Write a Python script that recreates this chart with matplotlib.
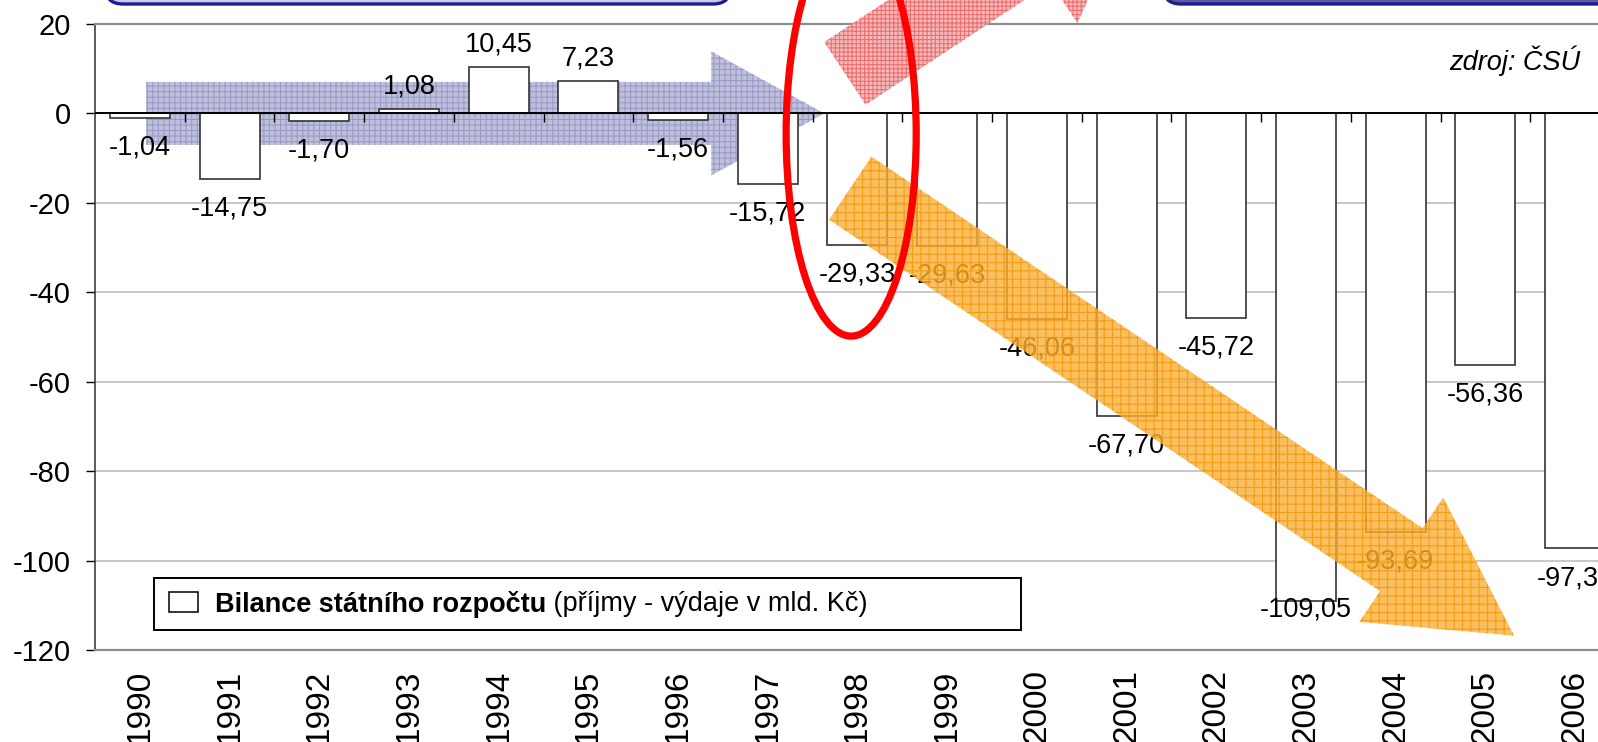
import numpy as np
import matplotlib
matplotlib.use("Agg")
import matplotlib.pyplot as plt
from matplotlib.patches import Polygon, Ellipse, FancyBboxPatch, Rectangle

years = [str(y) for y in range(1990, 2007)]
balance = [-1.04, -14.75, -1.70, 1.08, 10.45, 7.23, -1.56, -15.72, -29.33,
           -29.63, -46.06, -67.70, -45.72, -109.05, -93.69, -56.36, -97.30]
yticks = [20, 0, -20, -40, -60, -80, -100, -120]
legend_bold = "Bilance státního rozpočtu"
legend_rest = " (příjmy - výdaje v mld. Kč)"
source_text = "zdroj: ČSÚ"

W, H = 1598, 742
plt.rcParams['font.family'] = ['Liberation Sans', 'DejaVu Sans']
plt.rcParams['hatch.linewidth'] = 0.8

fig = plt.figure(figsize=(W / 100, H / 100), dpi=100)
fig.patch.set_facecolor('white')

# plot area: 95px left, y=20 at 24px, y=-120 at 650px, 89.7px per category
ax = fig.add_axes([95 / W, (H - 650) / H, 17 * 89.7 / W, 626 / H])
x = np.arange(len(years))
ax.set_xlim(-0.5, len(years) - 0.5)
ax.set_ylim(-120, 20)

for y in yticks[1:-1]:
    ax.axhline(y, color='#c4c4c4', lw=1.3, zorder=0)
ax.axhline(0, color='black', lw=1.4, zorder=4)
ax.vlines(x[:-1] + 0.5, -2.0, 0, color='black', lw=1.0, zorder=4)

ax.bar(x, balance, width=0.67, color='white', edgecolor='#333333', lw=1.2, zorder=3)

for xi, v in zip(x, balance):
    lab = f"{v:.2f}".replace('.', ',')
    if v > 0:
        ly = v + 5.0
    else:
        # labels stay inside the plot area, like in Excel
        ly = max(v - 6.6, -111.0)
    ax.text(xi, ly, lab, ha='center', va='center', fontsize=19.5,
            family=['Liberation Sans Narrow', 'Liberation Sans'], zorder=5)

ax.set_yticks(yticks)
ax.set_yticklabels([str(t) for t in yticks], fontsize=21)
ax.tick_params(axis='y', length=6.5, width=1, pad=11, direction='out')
ax.set_xticks(x)
ax.set_xticklabels(years, rotation=90, fontsize=24, va='top')
ax.tick_params(axis='x', length=0, pad=14)
for s in ['top', 'bottom']:
    ax.spines[s].set_color('#8c8c8c')
    ax.spines[s].set_linewidth(1.6)
ax.spines['right'].set_visible(False)
ax.spines['left'].set_color('#404040')
ax.spines['left'].set_linewidth(1.2)


def arrow_poly(tail, tip, body_half, head_half, head_len):
    p0 = ax.transData.transform(tail)
    p1 = ax.transData.transform(tip)
    u = (p1 - p0) / np.hypot(*(p1 - p0))
    n = np.array([-u[1], u[0]])
    base = p1 - u * head_len
    pts = [p0 + n * body_half, base + n * body_half, base + n * head_half, p1,
           base - n * head_half, base - n * body_half, p0 - n * body_half]
    return ax.transData.inverted().transform(np.array(pts))


# blue trend arrow (behind bars)
ax.add_patch(Polygon(arrow_poly((0.07, 0), (7.63, 0), 31.5, 62, 113),
                     facecolor='#b4b6d6', edgecolor='#9496c4', hatch='+++',
                     lw=0, alpha=0.85, zorder=2, clip_on=False))
# red arrow going up
ax.add_patch(Polygon(arrow_poly((7.86, 8.95), (11.19, 53.0), 37.5, 86, 136),
                     facecolor='#f6b4b4', edgecolor='#ec6868', hatch='++++',
                     lw=0, alpha=0.9, zorder=6, clip_on=False))
# orange arrow going down
ax.add_patch(Polygon(arrow_poly((7.92, -16.7), (15.32, -116.8), 38, 75, 136),
                     facecolor='#fbb038', edgecolor='#f29500', hatch='++',
                     lw=0, alpha=0.8, zorder=6, clip_on=False))
# red ellipse around 1998
ax.add_patch(Ellipse((7.93, -4.6), 1.45, 90.4, fill=False, edgecolor='#ff0000',
                     lw=5.2, zorder=7, clip_on=False))

# overlay in pixel coordinates for boxes, legend and source note
ov = fig.add_axes([0, 0, 1, 1])
ov.set_xlim(0, W)
ov.set_ylim(H, 0)
ov.set_axis_off()
ov.add_patch(FancyBboxPatch((105, -60), 626, 64, boxstyle='round,pad=0,rounding_size=18',
                            facecolor='#c9c9f2', edgecolor='#1c1c8c', lw=2.4))
ov.add_patch(FancyBboxPatch((1163, -60), 480, 64, boxstyle='round,pad=0,rounding_size=18',
                            facecolor='#5a5aa2', edgecolor='#1c1c8c', lw=2.4))

ov.add_patch(Rectangle((154, 578), 867, 52, facecolor='white', edgecolor='black', lw=1.4))
ov.add_patch(Rectangle((169, 592), 29, 20, facecolor='white', edgecolor='black', lw=1.1))
t1 = ov.text(215, 604, legend_bold, fontsize=19.5, fontweight='bold', va='center', ha='left')
ov.annotate(legend_rest, xy=(1, 0.5), xycoords=t1, va='center', ha='left', fontsize=19.5)

ov.text(1580, 70, source_text, fontsize=19.5, style='italic', ha='right', va='baseline')

plt.savefig('out.png', dpi=100)
